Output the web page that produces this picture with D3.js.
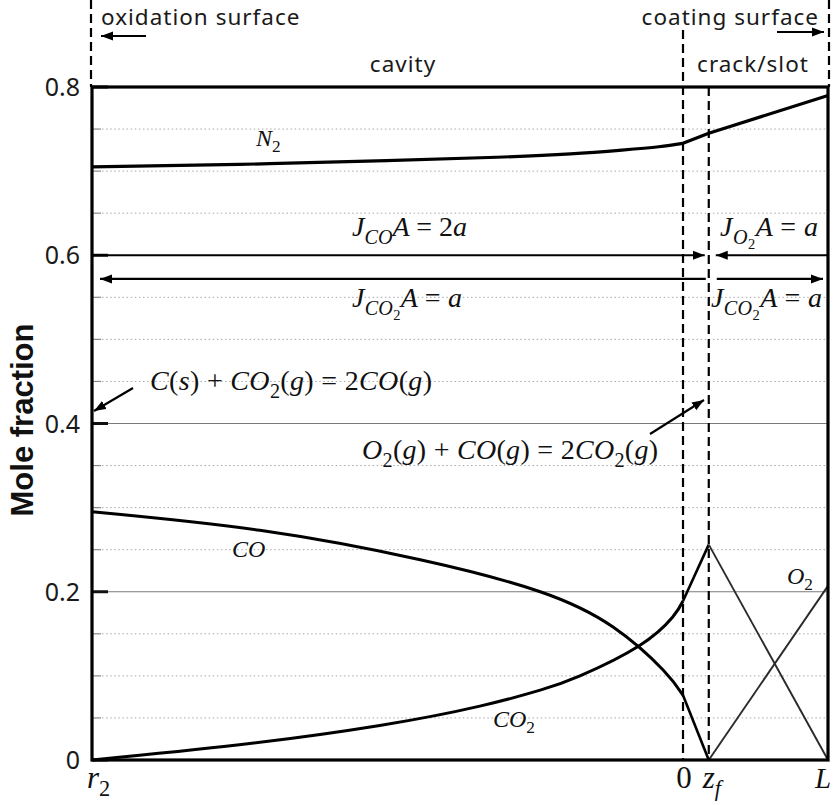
<!DOCTYPE html>
<html>
<head>
<meta charset="utf-8">
<script src="https://cdn.jsdelivr.net/npm/d3@7"></script>
<style>
  body { margin: 0; background: #fff; }
  text { white-space: pre; }
</style>
</head>
<body>
<svg id="chart" width="834" height="805"></svg>
<script>
// ---- data -------------------------------------------------------------
// Position along the pore, r2 = 0 ... L = 100 (cavity ends at "0", flame sheet at z_f)
const xMarks = { r2: 0, zero: 80.3, zf: 83.8, L: 100 };

// Cavity profiles (r2 -> 0)
const n2CavityX = [0, 20, 40, 55, 65, 72, 77, 80.3];
const n2CavityY = [0.705, 0.708, 0.7125, 0.7165, 0.7205, 0.725, 0.729, 0.733];

const coCavityX = [0, 22.8, 44.6, 60.9, 70.8, 77.6, 80.3];
const coCavityY = [0.295, 0.273, 0.238, 0.200, 0.158, 0.107, 0.077];

const co2CavityX = [0, 20, 39.1, 52.7, 60.9, 66.3, 74.3, 78.9, 80.3];
const co2CavityY = [0, 0.018, 0.041, 0.064, 0.083, 0.100, 0.1355, 0.170, 0.189];

// Crack/slot profiles (0 -> z_f -> L), piecewise linear
const n2CrackX = [80.3, 83.8, 100];
const n2CrackY = [0.733, 0.745, 0.790];
const coCrackX = [80.3, 83.8];
const coCrackY = [0.077, 0];
const co2CrackX = [80.3, 83.8];
const co2CrackY = [0.189, 0.256];
const co2OuterX = [83.8, 100];
const co2OuterY = [0.256, 0];
const o2OuterX = [83.8, 100];
const o2OuterY = [0, 0.207];

// Axis ticks
const yMajorTicks = [0, 0.2, 0.4, 0.6, 0.8];
const yTickLabels = ["0", "0.2", "0.4", "0.6", "0.8"];
const yMinorTicks = [0.05, 0.1, 0.15, 0.25, 0.3, 0.35, 0.45, 0.5, 0.55, 0.65, 0.7, 0.75];
const ySolidGrid = [0.2, 0.4];
const xTickPos = [xMarks.r2, xMarks.zero, xMarks.zf, xMarks.L];
const xTickLabels = ["r_{2}", "0", "z_{f}", "L"];

// Flux annotations (levels of the arrows)
const fluxLevelTop = 0.6;
const fluxLevelBottom = 0.5718;

// ---- drawing ----------------------------------------------------------
const svg = d3.select("#chart");
const x = d3.scaleLinear().domain([0, 100]).range([92, 828]);
const y = d3.scaleLinear().domain([0, 0.8]).range([760, 87]);

const SANS = "'Noto Sans', 'Open Sans', sans-serif";
const SERIF = "'Liberation Serif', 'DejaVu Serif', serif";

const defs = svg.append("defs");
defs.append("marker")
  .attr("id", "arrow").attr("viewBox", "0 -5 12 10")
  .attr("refX", 12).attr("refY", 0)
  .attr("markerUnits", "userSpaceOnUse")
  .attr("markerWidth", 12).attr("markerHeight", 10)
  .attr("orient", "auto")
  .append("path").attr("d", "M0,-4.5L12,0L0,4.5Z").attr("fill", "#000");

// gridlines
const grid = svg.append("g");
grid.selectAll("line.minor").data(yMinorTicks).join("line")
  .attr("x1", x(0) + 10).attr("x2", x(100) - 2)
  .attr("y1", d => y(d)).attr("y2", d => y(d))
  .attr("stroke", "#a8a8a8").attr("stroke-width", 1)
  .attr("stroke-dasharray", "1.5,2.6");
grid.selectAll("line.minortick").data(yMinorTicks).join("line")
  .attr("x1", x(0)).attr("x2", x(0) + 9)
  .attr("y1", d => y(d)).attr("y2", d => y(d))
  .attr("stroke", "#8a8a8a").attr("stroke-width", 1.2);
grid.selectAll("line.solid").data(ySolidGrid).join("line")
  .attr("x1", x(0)).attr("x2", x(100))
  .attr("y1", d => y(d)).attr("y2", d => y(d))
  .attr("stroke", "#7a7a7a").attr("stroke-width", 1.2);
grid.selectAll("line.major").data(yMajorTicks).join("line")
  .attr("x1", x(0)).attr("x2", x(0) + 16)
  .attr("y1", d => y(d)).attr("y2", d => y(d))
  .attr("stroke", "#111").attr("stroke-width", 3);

// y tick labels
svg.append("g").selectAll("text").data(yMajorTicks).join("text")
  .attr("x", 80).attr("y", d => y(d)).attr("dy", "0.36em")
  .attr("text-anchor", "end")
  .attr("font-family", SANS).attr("font-size", 25).attr("fill", "#1a1a1a")
  .text((d, i) => yTickLabels[i]);

// y axis title
svg.append("text")
  .attr("transform", "translate(33,420) rotate(-90)")
  .attr("text-anchor", "middle")
  .attr("font-family", "'Liberation Sans', Arial, sans-serif")
  .attr("font-weight", "bold").attr("font-size", 31).attr("fill", "#111")
  .text("Mole fraction");

// math-style text: letters italic, digits/symbols upright, _{...} subscripts (nestable)
function mathText(sel, str, size) {
  const runs = [];
  let level = 0, buf = "", bufLevel = 0, bufItal = null;
  const flush = () => {
    if (buf) runs.push({ t: buf, level: bufLevel, ital: bufItal });
    buf = "";
  };
  for (let i = 0; i < str.length; i++) {
    const c = str[i];
    if (c === "_" && str[i + 1] === "{") { flush(); level++; i++; continue; }
    if (c === "}") { flush(); level--; continue; }
    const ital = /[A-Za-z]/.test(c);
    if (buf && (bufLevel !== level || bufItal !== ital) && c !== " ") flush();
    if (!buf) { bufLevel = level; bufItal = ital; }
    buf += c;
  }
  flush();
  const offset = lv => {
    let o = 0;
    for (let k = 1; k <= lv; k++) o += 0.27 * size * Math.pow(0.72, k - 1);
    return o;
  };
  let shift = 0;
  runs.forEach(r => {
    const ts = sel.append("tspan").text(r.t)
      .attr("font-style", r.ital ? "italic" : "normal")
      .attr("font-size", size * Math.pow(0.72, r.level));
    const target = offset(r.level);
    if (target !== shift) { ts.attr("dy", target - shift); shift = target; }
  });
  return sel;
}
function mathLabel(px, py, str, size, anchor, width) {
  const t = svg.append("text")
    .attr("x", px).attr("y", py)
    .attr("text-anchor", anchor || "start")
    .attr("font-family", SERIF).attr("fill", "#111");
  mathText(t, str, size);
  if (width) t.attr("textLength", width).attr("lengthAdjust", "spacing");
  return t;
}

// x tick labels
mathLabel(x(xMarks.r2) - 5, 788, xTickLabels[0], 31, "start");
mathLabel(x(xMarks.zero) + 1, 788, xTickLabels[1], 31, "middle");
mathLabel(x(xMarks.zf) - 6, 788, xTickLabels[2], 31, "start");
mathLabel(x(xMarks.L) - 13, 788, xTickLabels[3], 29, "start");

// region boundaries (dashed)
const dash = svg.append("g").attr("stroke", "#000").attr("stroke-width", 2.2)
  .attr("stroke-dasharray", "9,5").attr("fill", "none");
dash.append("line").attr("x1", x(xMarks.r2) - 1).attr("x2", x(xMarks.r2) - 1).attr("y1", 0).attr("y2", y(0.8));
dash.append("line").attr("x1", x(xMarks.L) + 1).attr("x2", x(xMarks.L) + 1).attr("y1", 0).attr("y2", y(0.8));
dash.append("line").attr("x1", x(xMarks.zero)).attr("x2", x(xMarks.zero)).attr("y1", 30).attr("y2", y(0));
dash.append("line").attr("x1", x(xMarks.zf)).attr("x2", x(xMarks.zf)).attr("y1", y(0.8)).attr("y2", y(0));

// profiles
const smooth = d3.line().x(d => x(d[0])).y(d => y(d[1])).curve(d3.curveNatural);
const straight = d3.line().x(d => x(d[0])).y(d => y(d[1]));
const zip = (xs, ys) => xs.map((v, i) => [v, ys[i]]);
const curves = svg.append("g").attr("fill", "none").attr("stroke-linejoin", "round");
curves.append("path").attr("d", smooth(zip(n2CavityX, n2CavityY))).attr("stroke", "#000").attr("stroke-width", 3.2);
curves.append("path").attr("d", smooth(zip(coCavityX, coCavityY))).attr("stroke", "#000").attr("stroke-width", 3);
curves.append("path").attr("d", smooth(zip(co2CavityX, co2CavityY))).attr("stroke", "#000").attr("stroke-width", 3);
curves.append("path").attr("d", straight(zip(n2CrackX, n2CrackY))).attr("stroke", "#000").attr("stroke-width", 3.2);
curves.append("path").attr("d", straight(zip(coCrackX, coCrackY))).attr("stroke", "#000").attr("stroke-width", 2.6);
curves.append("path").attr("d", straight(zip(co2CrackX, co2CrackY))).attr("stroke", "#000").attr("stroke-width", 2.6);
curves.append("path").attr("d", straight(zip(co2OuterX, co2OuterY))).attr("stroke", "#2a2a2a").attr("stroke-width", 1.9);
curves.append("path").attr("d", straight(zip(o2OuterX, o2OuterY))).attr("stroke", "#2a2a2a").attr("stroke-width", 1.9);

// frame
svg.append("rect")
  .attr("x", x(0)).attr("y", y(0.8))
  .attr("width", x(100) - x(0)).attr("height", y(0) - y(0.8))
  .attr("fill", "none").attr("stroke", "#000").attr("stroke-width", 3.2);

// flux arrows
function arrow(x1, y1, x2, y2, w) {
  svg.append("line").attr("x1", x1).attr("y1", y1).attr("x2", x2).attr("y2", y2)
    .attr("stroke", "#000").attr("stroke-width", w || 2)
    .attr("marker-end", "url(#arrow)");
}
arrow(x(0), y(fluxLevelTop), x(xMarks.zf) - 4, y(fluxLevelTop), 2.2);
arrow(x(100), y(fluxLevelTop), x(xMarks.zf) + 7, y(fluxLevelTop), 2.2);
arrow(x(xMarks.zf) - 3, y(fluxLevelBottom), x(0) + 8, y(fluxLevelBottom), 2.2);
arrow(x(xMarks.zf) + 8, y(fluxLevelBottom), x(100) - 5, y(fluxLevelBottom), 2.2);

// top annotations
const topText = (px, py, s, anchor) => svg.append("text")
  .attr("x", px).attr("y", py).attr("text-anchor", anchor)
  .attr("font-family", SANS).attr("font-size", 22.5).attr("letter-spacing", 1)
  .attr("fill", "#1a1a1a").text(s);
topText(101, 24.5, "oxidation surface", "start");
topText(819, 24.5, "coating surface", "end");
topText(403, 72, "cavity", "middle");
topText(753, 72, "crack/slot", "middle");
arrow(146, 36, 101, 36, 2.2);
arrow(777, 32, 824, 32, 2.2);

// species labels
mathLabel(256, 146, "N_{2}", 24, "start");
mathLabel(232, 557, "CO", 24, "start");
mathLabel(493, 727, "CO_{2}", 24, "start");
mathLabel(787, 584, "O_{2}", 24, "start");

// flux labels
mathLabel(352, 236, "J_{CO}A = 2a", 28, "start", 115);
mathLabel(720, 236, "J_{O_{2}}A = a", 28, "start", 98);
mathLabel(352, 307, "J_{CO_{2}}A = a", 28, "start", 110);
mathLabel(711, 307, "J_{CO_{2}}A = a", 28, "start", 111);

// reactions
mathLabel(150, 390, "C(s) + CO_{2}(g) = 2CO(g)", 28, "start", 282);
mathLabel(362, 459, "O_{2}(g) + CO(g) = 2CO_{2}(g)", 28, "start", 296);
arrow(133, 388, 94, 411, 2.2);
arrow(650, 434, 704, 400, 2.2);
</script>
</body>
</html>
